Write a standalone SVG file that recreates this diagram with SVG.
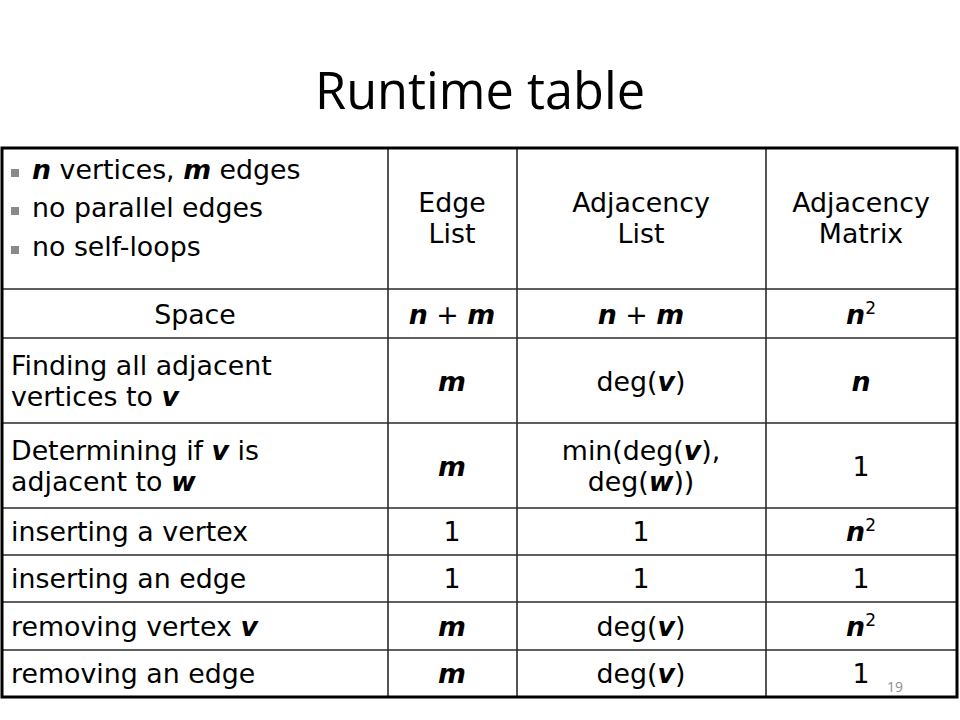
<svg xmlns="http://www.w3.org/2000/svg" width="960" height="720" viewBox="0 0 960 720">
<style>
.t{font-family:"DejaVu Sans","Verdana",sans-serif;font-size:26.8px;fill:#000}
.c{text-anchor:middle}
.b{font-weight:bold;font-style:italic}
.sup{font-size:17px}
.grid{stroke:#2a2a2a;stroke-width:1.6;fill:none}
.bul{fill:#8a8a8a}
</style>
<rect width="960" height="720" fill="#fff"/>
<text id="title" x="480" y="109" text-anchor="middle" textLength="330" lengthAdjust="spacingAndGlyphs" style="font-family:'Open Sans','Noto Sans',sans-serif;font-size:51px;fill:#000">Runtime table</text>
<g id="grid">
<line class="grid" x1="388" y1="148" x2="388" y2="697"/>
<line class="grid" x1="517" y1="148" x2="517" y2="697"/>
<line class="grid" x1="766" y1="148" x2="766" y2="697"/>
<line class="grid" x1="2" y1="289" x2="957" y2="289"/>
<line class="grid" x1="2" y1="338" x2="957" y2="338"/>
<line class="grid" x1="2" y1="423" x2="957" y2="423"/>
<line class="grid" x1="2" y1="508" x2="957" y2="508"/>
<line class="grid" x1="2" y1="555" x2="957" y2="555"/>
<line class="grid" x1="2" y1="602" x2="957" y2="602"/>
<line class="grid" x1="2" y1="650" x2="957" y2="650"/>
<rect x="2" y="148" width="955" height="549" fill="none" stroke="#000" stroke-width="3"/>
</g>
<g id="header">
<g id="h-assumptions">
<rect class="bul" x="11" y="169" width="8" height="8"/>
<rect class="bul" x="11" y="207" width="8" height="8"/>
<rect class="bul" x="11" y="246" width="8" height="8"/>
<text class="t" x="32" y="179"><tspan class="b">n</tspan> vertices, <tspan class="b">m</tspan> edges</text>
<text class="t" x="32" y="217">no parallel edges</text>
<text class="t" x="32" y="256">no self-loops</text>
</g>
<g id="h-edgelist"><text class="t c" x="452" y="212">Edge</text><text class="t c" x="452" y="243">List</text></g>
<g id="h-adjlist"><text class="t c" x="641" y="212">Adjacency</text><text class="t c" x="641" y="243">List</text></g>
<g id="h-adjmatrix"><text class="t c" x="861" y="212">Adjacency</text><text class="t c" x="861" y="243">Matrix</text></g>
</g>
<g id="row-space">
<text class="t c" x="195" y="324">Space</text>
<text class="t c" x="452" y="324"><tspan class="b">n</tspan> + <tspan class="b">m</tspan></text>
<text class="t c" x="641" y="324"><tspan class="b">n</tspan> + <tspan class="b">m</tspan></text>
<text class="t c" x="861" y="324"><tspan class="b">n</tspan><tspan class="sup" dy="-10">2</tspan></text>
</g>
<g id="row-finding">
<text class="t" x="11" y="375">Finding all adjacent</text>
<text class="t" x="11" y="406">vertices to <tspan class="b">v</tspan></text>
<text class="t c" x="452" y="391"><tspan class="b">m</tspan></text>
<text class="t c" x="641" y="391">deg(<tspan class="b">v</tspan>)</text>
<text class="t c" x="861" y="391"><tspan class="b">n</tspan></text>
</g>
<g id="row-determining">
<text class="t" x="11" y="460">Determining if <tspan class="b">v</tspan> is</text>
<text class="t" x="11" y="491">adjacent to <tspan class="b">w</tspan></text>
<text class="t c" x="452" y="476"><tspan class="b">m</tspan></text>
<text class="t c" x="641" y="460">min(deg(<tspan class="b">v</tspan>),</text>
<text class="t c" x="641" y="491">deg(<tspan class="b">w</tspan>))</text>
<text class="t c" x="861" y="476">1</text>
</g>
<g id="row-insert-vertex">
<text class="t" x="11" y="541">inserting a vertex</text>
<text class="t c" x="452" y="541">1</text>
<text class="t c" x="641" y="541">1</text>
<text class="t c" x="861" y="541"><tspan class="b">n</tspan><tspan class="sup" dy="-10">2</tspan></text>
</g>
<g id="row-insert-edge">
<text class="t" x="11" y="588">inserting an edge</text>
<text class="t c" x="452" y="588">1</text>
<text class="t c" x="641" y="588">1</text>
<text class="t c" x="861" y="588">1</text>
</g>
<g id="row-remove-vertex">
<text class="t" x="11" y="636">removing vertex <tspan class="b">v</tspan></text>
<text class="t c" x="452" y="636"><tspan class="b">m</tspan></text>
<text class="t c" x="641" y="636">deg(<tspan class="b">v</tspan>)</text>
<text class="t c" x="861" y="636"><tspan class="b">n</tspan><tspan class="sup" dy="-10">2</tspan></text>
</g>
<g id="row-remove-edge">
<text class="t" x="11" y="683">removing an edge</text>
<text class="t c" x="452" y="683"><tspan class="b">m</tspan></text>
<text class="t c" x="641" y="683">deg(<tspan class="b">v</tspan>)</text>
<text class="t c" x="861" y="683">1</text>
</g>
<text id="pagenum" x="895" y="692" text-anchor="middle" style="font-family:'Open Sans','Liberation Sans',sans-serif;font-size:14px;fill:#8c8c8c">19</text>
</svg>
